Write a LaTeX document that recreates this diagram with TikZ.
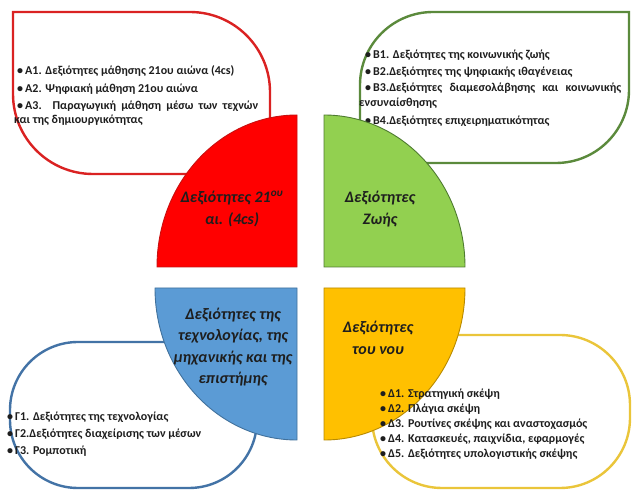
\documentclass[tikz,border=0pt]{standalone}
\usepackage{fontspec}
\setmainfont{Carlito}
\definecolor{qred}{HTML}{FF0000}
\definecolor{qredline}{HTML}{C81010}
\definecolor{qgreen}{HTML}{92D050}
\definecolor{qgreenline}{HTML}{4E7B30}
\definecolor{qblue}{HTML}{5B9BD5}
\definecolor{qblueline}{HTML}{41719C}
\definecolor{qyellow}{HTML}{FFC000}
\definecolor{qyellowline}{HTML}{B88A00}
\definecolor{bred}{HTML}{DA2222}
\definecolor{bgreen}{HTML}{5B8A3C}
\definecolor{bblue}{HTML}{4373A6}
\definecolor{byellow}{HTML}{EAC53A}
\definecolor{txt}{HTML}{1E1E1E}
\newcommand{\bul}{\makebox[8pt][l]{•}}
\tikzset{
  boxline/.style={line width=2.4pt, fill=white},
  quarter/.style={line width=0.9pt},
  listtxt/.style={font=\bfseries\fontsize{12}{14}\selectfont, anchor=base west, inner sep=0pt, text=txt},
  qlabel/.style={font=\bfseries\itshape\fontsize{16}{21.5}\selectfont, align=center, inner sep=0pt, text=txt}
}
\begin{document}
\begin{tikzpicture}[x=1pt,y=1pt]
\useasboundingbox (0,0) rectangle (632,490);
% boxes
\draw[boxline, draw=bred] (13,478) -- (190,478) arc[start angle=90,end angle=0,radius=80] -- (270,316) -- (93,316) arc[start angle=270,end angle=180,radius=80] -- cycle;
\draw[boxline, draw=bgreen] (360,405) arc[start angle=180,end angle=90,radius=73] -- (629,478) -- (629,400) arc[start angle=0,end angle=-90,radius=73] -- (360,327) -- cycle;
\draw[boxline, draw=bblue, rounded corners=68pt] (10,2) rectangle (257,148);
\draw[boxline, draw=byellow, rounded corners=70pt] (372,2) rectangle (630,155);
% green list (under its quarter)
\node[listtxt] (b1) at (365,431) {\bul Β1. Δεξιότητες της κοινωνικής ζωής};
\node[listtxt] (b2) at (365,414) {\bul Β2.Δεξιότητες της ψηφιακής ιθαγένειας};
\node[listtxt] (b3) at (365,398) {\bul\makebox[248pt][s]{Β3.Δεξιότητες διαμεσολάβησης και κοινωνικής}};
\node[listtxt] (b3b) at (359,383) {ενσυναίσθησης};
\node[listtxt] (b4) at (365,365) {\bul Β4.Δεξιότητες επιχειρηματικότητας};
% quarters
\draw[quarter, fill=qred, draw=qredline] (297,223) -- (297,375) arc[start angle=90,end angle=180,x radius=140,y radius=152] -- cycle;
\draw[quarter, fill=qgreen, draw=qgreenline] (324,223) -- (465,223) arc[start angle=0,end angle=90,x radius=141,y radius=152] -- cycle;
\draw[quarter, fill=qblue, draw=qblueline] (297,202) -- (155,202) arc[start angle=180,end angle=270,x radius=142,y radius=152] -- cycle;
\draw[quarter, fill=qyellow, draw=qyellowline] (324,202) -- (324,50) arc[start angle=270,end angle=360,x radius=141,y radius=152] -- cycle;
% quarter labels
\node[qlabel] (lred) at (232,281) {Δεξιότητες 21\textsuperscript{ου}\\αι. (4cs)};
\node[qlabel] (lgreen) at (380,281) {Δεξιότητες\\Ζωής};
\node[qlabel] (lblue) at (233,143) {Δεξιότητες της\\τεχνολογίας, της\\μηχανικής και της\\επιστήμης};
\node[qlabel] (lyellow) at (378,152) {Δεξιότητες\\του νου};
% red list
\node[listtxt] (a1) at (17,415) {\bul Α1. Δεξιότητες μάθησης 21ου αιώνα (4cs)};
\node[listtxt] (a2) at (17,397) {\bul Α2. Ψηφιακή μάθηση 21ου αιώνα};
\node[listtxt] (a3) at (17,380) {\bul\makebox[233pt][s]{Α3. Παραγωγική μάθηση μέσω των τεχνών}};
\node[listtxt] (a3b) at (14,366) {και της δημιουργικότητας};
% blue list
\node[listtxt] (g1) at (7,69) {\bul Γ1. Δεξιότητες της τεχνολογίας};
\node[listtxt] (g2) at (7,52) {\bul Γ2.Δεξιότητες διαχείρισης των μέσων};
\node[listtxt] (g3) at (7,35) {\bul Γ3. Ρομποτική};
% yellow list
\node[listtxt] (d1) at (380,92) {\bul Δ1. Στρατηγική σκέψη};
\node[listtxt] (d2) at (380,77) {\bul Δ2. Πλάγια σκέψη};
\node[listtxt] (d3) at (380,62) {\bul Δ3. Ρουτίνες σκέψης και αναστοχασμός};
\node[listtxt] (d4) at (380,47) {\bul Δ4. Κατασκευές, παιχνίδια, εφαρμογές};
\node[listtxt] (d5) at (380,32) {\bul Δ5. Δεξιότητες υπολογιστικής σκέψης};
\end{tikzpicture}
\end{document}
